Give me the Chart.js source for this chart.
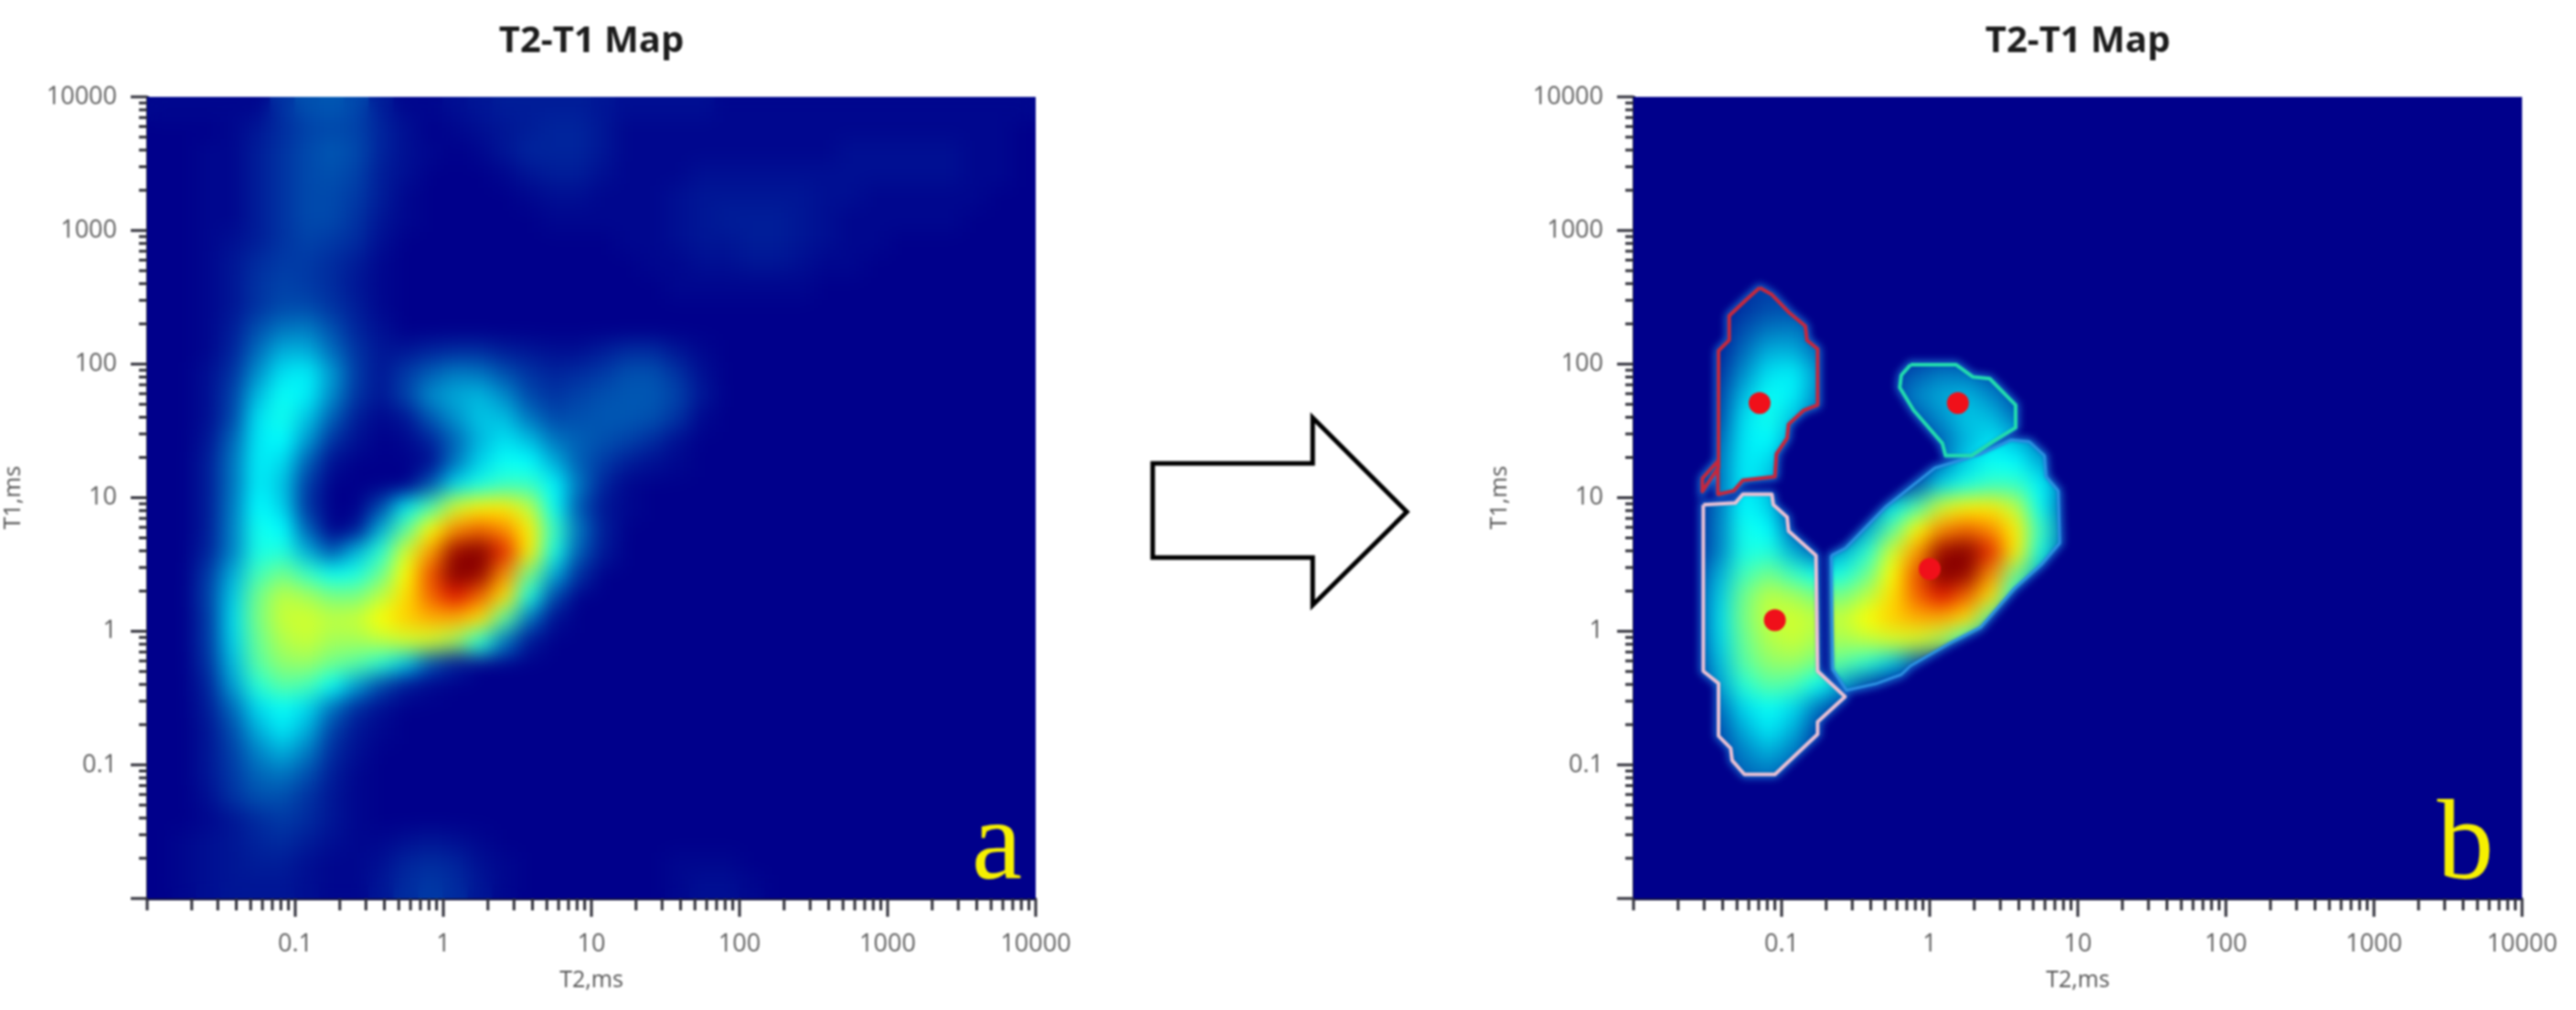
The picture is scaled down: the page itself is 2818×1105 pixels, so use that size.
<!DOCTYPE html>
<html>
<head>
<meta charset="utf-8">
<title>T2-T1 Map</title>
<script src="https://cdn.jsdelivr.net/npm/chart.js@4/dist/chart.umd.js"></script>
<style>
    html, body { margin: 0; padding: 0; background: #fff; width: 2818px; height: 1105px; overflow: hidden; }
    canvas, svg { position: absolute; top: 0; filter: blur(0.8px); }
    #mapA { left: 0; }
    #mapB { left: 1626px; }
    #arrow { left: 1220px; top: 420px; }
</style>
</head>
<body>
<canvas id="mapA" width="1192" height="1105"></canvas>
<canvas id="mapB" width="1192" height="1105"></canvas>
<svg id="arrow" width="340" height="270" viewBox="1220 420 340 270">
    <polygon points="1261,507 1436,507 1436,457 1539,560 1436,662 1436,610 1261,610"
             fill="#fff" stroke="#000" stroke-width="5"/>
</svg>
<script>
// ============================================
// DATA
// ============================================

const chartTitle = 'T2-T1 Map';
const xTitle = 'T2,ms';
const yTitle = 'T1,ms';
const decades = [0.01, 0.1, 1, 10, 100, 1000, 10000];
const minorSteps = [2, 3, 4, 5, 6, 7, 8, 9];

// amplitude, 6 cells per decade.
// rows run from T1 = 10000 down to 0.01, columns from T2 = 0.01 up, trailing zeros left out
const amplitudeRows = [
    [1,1,1,1,1,7,11,12,10,4,1,1,2,3,4,4,4,4,3,2,2,2,2,1,1,1,1,1,1,1,1,1,1,1,1,1],
    [0,0,0,1,3,6,9,10,9,5,2,0,1,2,3,4,5,5,3,1,1,1,1,1,1,1,1,1,1,1,1,1,1,1,1],
    [0,0,1,1,4,7,10,12,10,5,2,1,0,1,3,5,5,5,3,1,1,1,1,1,1,1,1,1,2,2,2,2,2,1,1],
    [0,0,1,1,4,7,10,11,9,4,2,0,0,0,1,3,4,4,2,1,1,1,2,2,2,2,2,2,2,2,2,2,2,1,1],
    [0,0,1,1,4,7,10,10,8,4,1,0,0,0,0,1,2,2,1,1,1,2,3,3,3,3,3,2,2,1,1,1,1,1],
    [0,0,1,1,4,7,10,10,7,3,1,0,0,0,0,0,1,1,1,1,1,2,3,4,4,4,3,2,1,1,1,1,1],
    [0,0,1,2,4,7,9,8,6,2,0,0,0,0,0,0,0,0,0,1,1,2,3,3,4,4,3,2,1,1],
    [0,0,1,3,6,8,8,6,4,1,0,0,0,0,0,0,0,0,0,0,1,1,2,2,3,3,2,1,1],
    [0,0,1,3,7,9,8,6,3,1,0,0,0,0,0,0,0,0,0,0,0,1,1,1,1,1,1],
    [0,0,1,3,7,10,10,7,4,1],
    [0,0,1,4,11,16,17,11,5,2],
    [0,0,1,5,15,24,24,15,7,3,3,5,6,6,4,3,2,2,4,6,6,3,1],
    [0,0,2,7,20,31,33,21,8,3,8,13,17,16,11,7,5,6,8,11,11,7,2],
    [0,0,2,9,26,36,33,19,7,3,9,19,23,25,19,10,7,9,11,12,12,9,3],
    [0,0,2,10,31,37,27,13,4,1,3,12,20,27,26,16,10,11,12,12,11,7,1],
    [0,0,3,14,32,35,21,7,2,0,1,5,14,25,31,26,16,13,11,9,6,2],
    [0,0,4,16,33,30,13,2,0,0,0,2,16,29,36,35,24,13,8,4,2,1],
    [0,0,4,16,33,27,8,0,0,0,0,12,30,38,42,42,34,16,5,1],
    [0,0,4,17,35,29,7,0,0,10,32,44,58,63,64,56,36,12,3,1],
    [0,0,4,18,37,35,13,0,3,24,46,62,76,80,76,64,42,16,4],
    [0,0,5,18,38,39,24,12,25,40,58,74,97,100,86,64,38,13,3],
    [0,0,8,24,43,49,42,36,38,48,62,82,100,98,76,50,24,6],
    [0,0,9,28,49,56,54,50,50,56,66,80,88,80,66,38,10],
    [0,0,8,30,50,57,58,56,57,62,68,72,72,66,46,16,2],
    [0,0,8,29,48,55,57,54,54,56,58,58,54,40,16,3],
    [0,0,7,26,46,52,53,49,46,40,28,12,4],
    [0,0,5,22,40,46,44,36,22,10,3,1],
    [0,0,4,15,30,36,30,16,6,2],
    [0,0,3,11,24,32,24,9,3,1],
    [0,0,3,9,18,24,17,6,2],
    [0,0,3,8,14,16,11,4,1],
    [0,0,2,7,11,11,7,3,1],
    [0,0,1,3,6,8,6,3,1],
    [0,1,2,3,5,6,4,2,1,1,2,3,2,1],
    [0,1,2,3,4,4,2,1,1,2,5,6,5,2,1,0,0,0,0,0,0,1,1,1],
    [0,1,2,3,3,3,2,1,1,3,6,8,6,3,1,0,0,0,0,0,0,1,2,2,1]
];

// region outlines of panel b, as log10(T2), log10(T1) pairs
const redRegion = [
    [-1.148,2.572],[-1.066,2.520],[-0.953,2.389],[-0.840,2.284],[-0.829,2.179],[-0.757,2.113],
    [-0.757,1.694],[-0.850,1.655],[-0.953,1.550],[-0.963,1.445],[-1.035,1.327],[-1.045,1.157],
    [-1.262,1.130],[-1.323,1.052],[-1.426,1.026],[-1.430,1.275],[-1.535,1.144],[-1.535,1.047],
    [-1.430,1.222],[-1.426,2.100],[-1.354,2.179],[-1.354,2.362],[-1.241,2.480]
];
const greenRegion = [
    [-0.130,1.995],[0.179,1.995],[0.292,1.904],[0.405,1.891],[0.580,1.694],[0.580,1.524],
    [0.426,1.419],[0.282,1.314],[0.107,1.314],[0.086,1.406],[-0.109,1.655],[-0.202,1.825],[-0.192,1.917]
];
const pinkRegion = [
    [-1.529,0.947],[-1.313,0.960],[-1.262,1.026],[-1.066,1.026],[-1.056,0.947],[-0.963,0.855],
    [-0.953,0.750],[-0.768,0.567],[-0.757,-0.298],[-0.572,-0.490],[-0.757,-0.678],[-0.757,-0.770],
    [-1.045,-1.071],[-1.251,-1.071],[-1.334,-0.966],[-1.344,-0.875],[-1.426,-0.783],[-1.426,-0.390],[-1.529,-0.298]
];
const blueRegion = [
    [-0.665,0.567],[-0.572,0.619],[-0.294,0.934],[0.035,1.222],[0.343,1.327],[0.549,1.432],
    [0.673,1.419],[0.775,1.314],[0.786,1.157],[0.868,1.052],[0.878,0.659],[0.755,0.501],
    [0.570,0.318],[0.343,0.029],[0.138,-0.088],[-0.130,-0.259],[-0.192,-0.324],[-0.356,-0.390],
    [-0.562,-0.442],[-0.655,-0.285]
];

// fitted region centres in panel b
const centreT2 = [0.071, 1.55, 0.09, 1.0];
const centreT1 = [51, 51, 1.21, 2.93];

// ============================================
// HELPERS
// ============================================

// colour stops: amplitude, r, g, b
const colorStops = [
    [0, 0, 0, 139], [35, 0, 255, 255], [50, 120, 255, 130], [62, 255, 255, 0],
    [75, 255, 150, 0], [88, 225, 20, 0], [100, 130, 0, 0]
];

function amplitudeColor(v) {
    for (let i = 1; i < colorStops.length; i++) {
        const a = colorStops[i - 1];
        const b = colorStops[i];
        if (v <= b[0]) {
            const t = (v - a[0]) / (b[0] - a[0]);
            const mix = k => Math.round(a[k] + (b[k] - a[k]) * t);
            return `rgb(${mix(1)},${mix(2)},${mix(3)})`;
        }
    }
    return 'rgb(130,0,0)';
}

function heatPoints() {
    const points = [];
    amplitudeRows.forEach((row, j) => {
        row.forEach((v, i) => {
            if (v > 0) points.push({ x: 10 ** (-2 + (i + 0.5) / 6), y: 10 ** (4 - (j + 0.5) / 6), v: v });
        });
    });
    return points;
}

function regionPoints(region) {
    const closed = region.concat([region[0]]);
    return closed.map(p => ({ x: 10 ** p[0], y: 10 ** p[1] }));
}

function tickValues() {
    const values = [];
    decades.forEach((d, i) => {
        values.push(d);
        if (i < decades.length - 1) minorSteps.forEach(m => values.push(Number((d * m).toPrecision(1))));
    });
    return values;
}

function tracePath(ctx, chart, region) {
    ctx.beginPath();
    regionPoints(region).forEach((p, i) => {
        const px = chart.scales.x.getPixelForValue(p.x);
        const py = chart.scales.y.getPixelForValue(p.y);
        if (i === 0) ctx.moveTo(px, py); else ctx.lineTo(px, py);
    });
    ctx.closePath();
}

// ============================================
// PLUGINS
// ============================================

const plotBackground = {
    id: 'plotBackground',
    beforeDatasetsDraw(chart) {
        const a = chart.chartArea;
        chart.ctx.save();
        chart.ctx.fillStyle = 'rgb(0,0,139)';
        chart.ctx.fillRect(a.left, a.top, a.right - a.left, a.bottom - a.top);
        chart.ctx.restore();
    }
};

// smooths the heat cells once they are drawn, panel b keeps only its regions
const heatSmoothing = {
    id: 'heatSmoothing',
    afterDatasetDraw(chart, args) {
        if (args.meta.label !== 'amplitude') return;
        const a = chart.chartArea;
        const w = a.right - a.left;
        const h = a.bottom - a.top;
        const src = document.createElement('canvas');
        src.width = w;
        src.height = h;
        src.getContext('2d').drawImage(chart.canvas, a.left, a.top, w, h, 0, 0, w, h);

        const tmp = document.createElement('canvas');
        tmp.width = chart.width;
        tmp.height = chart.height;
        const t = tmp.getContext('2d');
        t.filter = 'blur(11px)';
        t.drawImage(src, a.left, a.top);
        t.filter = 'none';

        const ctx = chart.ctx;
        const masked = chart.canvas.id === 'mapB';
        if (masked) {
            t.globalCompositeOperation = 'destination-in';
            const mask = document.createElement('canvas');
            mask.width = chart.width;
            mask.height = chart.height;
            const m = mask.getContext('2d');
            m.filter = 'blur(2px)';
            [redRegion, greenRegion, pinkRegion, blueRegion].forEach(r => {
                tracePath(m, chart, r);
                m.fill();
            });
            t.drawImage(mask, 0, 0);
        }
        ctx.save();
        ctx.beginPath();
        ctx.rect(a.left, a.top, w, h);
        ctx.clip();
        if (masked) {
            ctx.fillStyle = 'rgb(0,0,139)';
            ctx.fillRect(a.left, a.top, w, h);
            // soft blue glow around the regions
            ctx.filter = 'blur(4px)';
            ctx.strokeStyle = '#1c86dc';
            ctx.lineWidth = 7;
            [redRegion, greenRegion, pinkRegion, blueRegion].forEach(r => {
                tracePath(ctx, chart, r);
                ctx.stroke();
            });
            ctx.filter = 'none';
        }
        ctx.drawImage(tmp, 0, 0);
        ctx.restore();
    }
};

const axisTicks = {
    id: 'axisTicks',
    afterDraw(chart) {
        const ctx = chart.ctx;
        const a = chart.chartArea;
        ctx.save();
        ctx.strokeStyle = '#2e2e38';
        ctx.lineWidth = 3;
        chart.scales.x.ticks.forEach(t => {
            const px = chart.scales.x.getPixelForValue(t.value);
            const len = t.value > 0.01 && decades.includes(t.value) ? 20 : 13;
            ctx.beginPath();
            ctx.moveTo(px, a.bottom);
            ctx.lineTo(px, a.bottom + len);
            ctx.stroke();
        });
        chart.scales.y.ticks.forEach(t => {
            const py = chart.scales.y.getPixelForValue(t.value);
            const len = decades.includes(t.value) ? 18 : 9;
            ctx.beginPath();
            ctx.moveTo(a.left, py);
            ctx.lineTo(a.left - len, py);
            ctx.stroke();
        });
        ctx.restore();
    }
};

const panelLetter = {
    id: 'panelLetter',
    afterDraw(chart, args, opts) {
        const a = chart.chartArea;
        const ctx = chart.ctx;
        ctx.save();
        ctx.font = '124px "Liberation Serif"';
        ctx.fillStyle = '#f6f000';
        ctx.textAlign = 'right';
        ctx.fillText(opts.text, a.right - opts.inset, a.bottom - 22);
        ctx.restore();
    }
};

// ============================================
// CHARTS
// ============================================

function regionLine(label, region, color, width, order) {
    return {
        label: label,
        data: regionPoints(region),
        showLine: true,
        borderColor: color,
        borderWidth: width,
        borderJoinStyle: 'round',
        pointRadius: 0,
        order: order
    };
}

function renderPanel(id, letter, inset, withRegions) {
    const heat = heatPoints();
    const datasets = [{
        label: 'amplitude',
        data: heat,
        pointStyle: 'rect',
        pointRadius: 20,
        pointBorderWidth: 0,
        pointBackgroundColor: heat.map(p => amplitudeColor(p.v)),
        clip: 0,
        order: 10
    }];
    if (withRegions) {
        datasets.push(regionLine('blue region', blueRegion, '#2b90e2', 3, 5));
        datasets.push(regionLine('red region', redRegion, '#c4283e', 4, 3));
        datasets.push(regionLine('green region', greenRegion, '#22dcae', 4, 3));
        datasets.push(regionLine('pink region', pinkRegion, '#e8c0d4', 4, 3));
        datasets.push({
            label: 'centres',
            data: centreT2.map((t2, i) => ({ x: t2, y: centreT1[i] })),
            pointRadius: 12,
            pointBorderWidth: 0,
            pointBackgroundColor: '#f0101a',
            order: 1
        });
    }
    const tickFont = { family: '"Open Sans"', size: 27 };
    const labelFor = v => (decades.includes(v) && v > 0.01 ? String(v) : '');
    const logTicks = scale => { scale.ticks = tickValues().map(v => ({ value: v })); };
    return new Chart(document.getElementById(id), {
        type: 'scatter',
        data: { datasets: datasets },
        plugins: [plotBackground, heatSmoothing, axisTicks, panelLetter],
        options: {
            responsive: false,
            animation: false,
            devicePixelRatio: 1,
            layout: { padding: { right: 59 } },
            plugins: {
                legend: { display: false },
                tooltip: { enabled: false },
                title: {
                    display: true,
                    text: chartTitle,
                    fullSize: false,
                    color: '#1c1c1c',
                    font: { family: '"Open Sans"', size: 40, weight: 'bold' },
                    padding: { top: 22, bottom: 36 }
                },
                panelLetter: { text: letter, inset: inset }
            },
            scales: {
                x: {
                    type: 'logarithmic',
                    min: 0.01,
                    max: 10000,
                    afterBuildTicks: logTicks,
                    afterFit: s => { s.height = 122; },
                    grid: { display: false, drawTicks: true, tickLength: 20 },
                    border: { display: true, width: 3, color: '#14143c' },
                    title: { display: true, text: xTitle, color: '#555', font: { family: '"Open Sans"', size: 25 }, padding: { top: 0, bottom: 17 } },
                    ticks: { color: '#5f5f5f', font: tickFont, padding: 14, autoSkip: false, maxRotation: 0, callback: labelFor }
                },
                y: {
                    type: 'logarithmic',
                    min: 0.01,
                    max: 10000,
                    afterBuildTicks: logTicks,
                    afterFit: s => { s.width = 161; },
                    grid: { display: false, drawTicks: true, tickLength: 18 },
                    border: { display: true, width: 3, color: '#14143c' },
                    title: { display: true, text: yTitle, color: '#555', font: { family: '"Open Sans"', size: 25 }, padding: { top: 0, bottom: 19 } },
                    ticks: { color: '#5f5f5f', font: tickFont, padding: 15, autoSkip: false, callback: labelFor }
                }
            }
        }
    });
}

renderPanel('mapA', 'a', 15, false);
renderPanel('mapB', 'b', 31, true);
</script>
</body>
</html>
